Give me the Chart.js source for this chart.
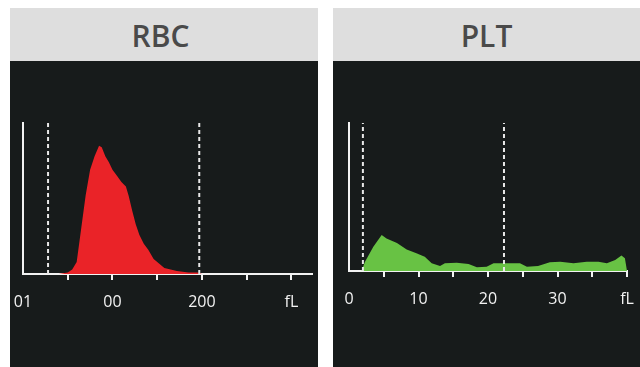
<!DOCTYPE html>
<html>
<head>
<meta charset="utf-8">
<script src="https://cdn.jsdelivr.net/npm/chart.js@4"></script>
<style>
  html, body { margin: 0; padding: 0; background: #ffffff; }
  body { width: 640px; height: 367px; position: relative; overflow: hidden; }
  .painel { position: absolute; top: 8px; background: #171b1b; }
  .titulo {
    height: 53px; background: #dedede; color: #4a4a4a;
    font-family: "Open Sans", sans-serif; font-weight: 600; font-size: 30px;
    text-align: center; line-height: 55px;
  }
  canvas { display: block; }
</style>
</head>
<body>
<div class="painel" style="left:10px; width:308px; height:359px;">
  <div class="titulo" style="padding-right:7px;">RBC</div>
  <canvas id="graficoRbc" width="308" height="306"></canvas>
</div>
<div class="painel" style="left:333px; width:307px; height:359px;">
  <div class="titulo">PLT</div>
  <canvas id="graficoPlt" width="307" height="306"></canvas>
</div>
<script>
// RBC histograma (fL x contagem relativa)
const rbcVolume = [40, 45, 50, 55, 60, 65, 70, 75, 80, 85, 88, 92, 96, 100, 105, 110, 115, 118, 122, 126, 130, 135, 140, 146, 152, 158, 165, 172, 185, 195, 200]
const rbcCount  = [0, 0.5, 1, 3, 8, 30, 52, 69, 78, 85, 84, 78, 74, 69, 65, 61, 58, 52, 42, 33, 26, 20, 16, 10, 7, 4, 3, 2, 1, 1, 0]
const rbcCutoffs = [28, 197]
const rbcLabelValues = [0, 100, 200, 300]
const rbcLabelTexts = ['01', '00', '200', 'fL']

// PLT histograma
const pltVolume = [1.8, 2.3, 3.5, 4.7, 5.4, 6.9, 8.3, 9.7, 10.9, 11.9, 13.1, 13.8, 15.5, 17.2, 18.4, 19.8, 20.8, 22.7, 24.6, 25.6, 27.2, 28.9, 30.4, 32.3, 34.2, 35.9, 37.1, 38.3, 39.2, 39.7, 40]
const pltCount  = [0, 6.3, 16.4, 24.3, 22, 19, 14.6, 12, 9.7, 5.2, 3.4, 5.2, 5.6, 4.7, 2.5, 2.9, 5.2, 5.2, 5.2, 2.9, 3.4, 5.9, 6.3, 5.2, 6.3, 6.3, 5.2, 7.4, 10.4, 8.6, 0]
const pltCutoffs = [2, 22.3]
const pltLabelValues = [0, 10, 20, 30, 40]
const pltLabelTexts = ['0', '10', '20', '30', 'fL']

const branco = '#f2f2f2'

function montaGrafico(canvas, cfg) {
    const pontos = cfg.volume.map((v, i) => ({ x: v, y: cfg.count[i] }))
    const cortes = cfg.cutoffs.map(c => ({
        data: [{ x: c, y: 0 }, { x: c, y: 100 }],
        borderColor: '#e8e8e8',
        borderWidth: 2,
        borderDash: [4, 3],
        pointRadius: 0,
        fill: false
    }))
    return new Chart(canvas, {
        type: 'line',
        data: {
            datasets: [...cortes, {
                data: pontos,
                borderWidth: 0,
                borderColor: cfg.cor,
                backgroundColor: cfg.cor,
                pointRadius: 0,
                tension: 0,
                fill: 'origin'
            }]
        },
        options: {
            responsive: false,
            animation: false,
            events: [],
            layout: { padding: cfg.padding },
            plugins: { legend: { display: false }, tooltip: { enabled: false } },
            scales: {
                x: {
                    type: 'linear',
                    min: 0,
                    max: cfg.max,
                    border: { color: branco, width: 2 },
                    grid: {
                        drawOnChartArea: false,
                        tickLength: 6,
                        lineWidth: 2,
                        color: ctx => (ctx.tick && ctx.tick.value === 0) ? 'rgba(0,0,0,0)' : branco
                    },
                    ticks: {
                        stepSize: cfg.step,
                        includeBounds: false,
                        autoSkip: false,
                        maxRotation: 0,
                        padding: 13,
                        color: branco,
                        font: { family: 'Open Sans', size: 16 },
                        callback: v => {
                            const i = cfg.labelValues.indexOf(v)
                            return i >= 0 ? cfg.labelTexts[i] : ''
                        }
                    },
                    // sem margem extra para os rótulos das pontas
                    afterFit: s => { s.height = 40; s.paddingLeft = 0; s.paddingRight = 0 }
                },
                y: {
                    min: 0,
                    max: 100,
                    border: { color: branco, width: 2 },
                    grid: { display: false },
                    ticks: { display: false },
                    afterFit: s => { s.width = 0; s.paddingTop = 0; s.paddingBottom = 0 }
                }
            }
        }
    })
}

montaGrafico(document.querySelector('#graficoRbc'), {
    volume: rbcVolume, count: rbcCount, cutoffs: rbcCutoffs,
    labelValues: rbcLabelValues, labelTexts: rbcLabelTexts,
    max: 323, step: 50, cor: '#ea2328',
    padding: { left: 13, top: 62, right: 6, bottom: 53 }
})

montaGrafico(document.querySelector('#graficoPlt'), {
    volume: pltVolume, count: pltCount, cutoffs: pltCutoffs,
    labelValues: pltLabelValues, labelTexts: pltLabelTexts,
    max: 40, step: 5, cor: '#68c244',
    padding: { left: 16, top: 62, right: 13, bottom: 56 }
})
</script>
</body>
</html>
